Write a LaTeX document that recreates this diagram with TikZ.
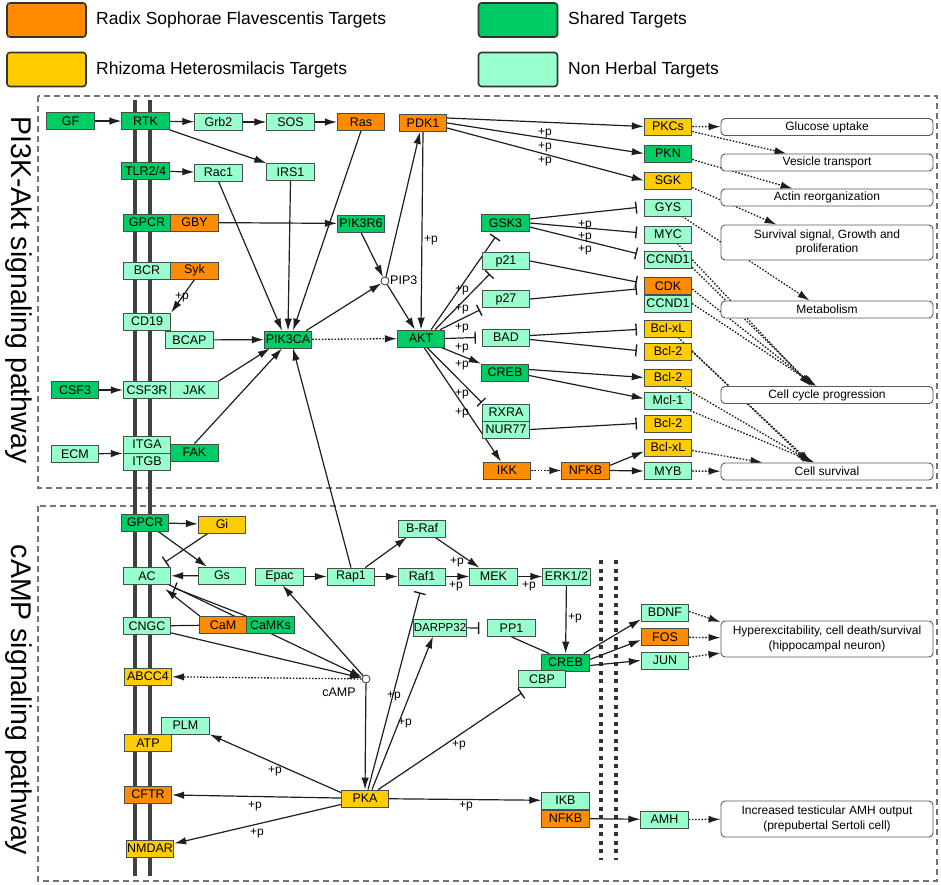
\documentclass[tikz,border=0pt]{standalone}
\usepackage{fontspec}
\setmainfont{Liberation Sans}
\usetikzlibrary{arrows.meta,calc}
\definecolor{rsfc}{RGB}{255,140,0}
\definecolor{rhc}{RGB}{255,204,0}
\definecolor{shc}{RGB}{0,204,102}
\definecolor{nhc}{RGB}{153,255,204}
\definecolor{boxline}{RGB}{70,80,75}
\definecolor{edge}{RGB}{30,30,30}
\pgfdeclarelayer{back}
\pgfsetlayers{back,main}

\begin{document}
\begin{tikzpicture}[x=1pt,y=-1pt,
  gene/.style={draw=boxline, line width=0.8pt, minimum width=47.5pt, minimum height=17pt, inner sep=0pt, font=\fontsize{12.5}{12.5}\selectfont},
  rsf/.style={gene, fill=rsfc},
  rh/.style={gene, fill=rhc},
  sh/.style={gene, fill=shc},
  nh/.style={gene, fill=nhc},
  outc/.style={draw=black!65, line width=0.9pt, rounded corners=4pt, fill=white, minimum width=212pt, minimum height=17pt, inner sep=1pt, align=center, font=\fontsize{12}{14.5}\selectfont},
  hub/.style={circle, draw=black!80, line width=0.8pt, fill=white, minimum size=8pt, inner sep=0pt},
  legbox/.style={draw=black!80, line width=1.6pt, rounded corners=3pt, minimum width=79pt, minimum height=34pt},
  legtxt/.style={anchor=west, inner sep=0pt, font=\fontsize{17.5}{18}\selectfont},
  plab/.style={inner sep=0pt, font=\fontsize{12}{12}\selectfont},
  small/.style={inner sep=0pt, font=\fontsize{12.5}{12.5}\selectfont},
  side/.style={rotate=-90, inner sep=0pt, font=\fontsize{28.5}{30}\selectfont},
  frame/.style={draw=black!55, line width=2pt, dash pattern=on 6pt off 4pt},
  memb/.style={draw=black!75, line width=4.5pt},
  wall/.style={draw=black!80, line width=4pt, dash pattern=on 4pt off 4.5pt},
  con/.style={draw=edge, line width=1.2pt},
  act/.style={con, -{Latex[length=12pt,width=7.5pt]}},
  inh/.style={con, -{Bar[width=12pt,line width=1.4pt]}},
  dotact/.style={draw=edge, line width=1.3pt, dash pattern=on 1.6pt off 1.6pt, -{Latex[length=12pt,width=7.5pt]}}]
\useasboundingbox (0,0) rectangle (941,884);

\node[legbox, fill=rsfc] (legRSF) at (46.5,20) {};
\node[legtxt] (legRSFt) at (96,20) {Radix Sophorae Flavescentis Targets};
\node[legbox, fill=rhc] (legRH) at (46.5,69.5) {};
\node[legtxt] (legRHt) at (96,69.5) {Rhizoma Heterosmilacis Targets};
\node[legbox, fill=shc] (legSH) at (518,20) {};
\node[legtxt] (legSHt) at (568,20) {Shared Targets};
\node[legbox, fill=nhc] (legNH) at (518,69.5) {};
\node[legtxt] (legNHt) at (568,69.5) {Non Herbal Targets};

\node[side] (sideA) at (19,290) {PI3K-Akt signaling pathway};
\node[side] (sideB) at (19,700) {cAMP signaling pathway};

\node[sh] (GF) at (70.5,121) {GF};
\node[sh] (RTK) at (145.5,121) {RTK};
\node[nh] (Grb2) at (218.5,122) {Grb2};
\node[nh] (SOS) at (290.5,122) {SOS};
\node[rsf] (Ras) at (361,122) {Ras};
\node[rsf] (PDK1) at (423,123) {PDK1};
\node[sh] (TLR) at (145.5,171) {TLR2/4};
\node[nh] (Rac1) at (218.5,172.5) {Rac1};
\node[nh] (IRS1) at (290.5,172) {IRS1};
\node[sh] (GPCRa) at (147,222.5) {GPCR};
\node[rsf] (GBY) at (194.5,222.5) {GBY};
\node[sh] (PIK3R6) at (361,223.5) {PIK3R6};
\node[nh] (BCR) at (147,270.5) {BCR};
\node[rsf] (Syk) at (194.5,270.5) {Syk};
\node[hub] (PIP3) at (385,281) {};
\node[small, anchor=west] (PIP3t) at (390,280) {PIP3};
\node[nh] (CD19) at (147,321.5) {CD19};
\node[nh] (BCAP) at (189.5,340) {BCAP};
\node[sh] (PIK3CA) at (288,339.5) {PIK3CA};
\node[sh] (AKT) at (421,338.5) {AKT};
\node[sh] (CSF3) at (75,390) {CSF3};
\node[nh] (CSF3R) at (147,390) {CSF3R};
\node[nh] (JAK) at (194.5,390) {JAK};
\node[nh] (ECM) at (75,454) {ECM};
\node[nh] (ITGA) at (147,444.5) {ITGA};
\node[nh] (ITGB) at (147,461.5) {ITGB};
\node[sh] (FAK) at (194.5,452.5) {FAK};
\node[sh] (GSK3) at (505.5,223) {GSK3};
\node[nh] (p21) at (506,261) {p21};
\node[nh] (p27) at (506,299) {p27};
\node[nh] (BAD) at (506,337.5) {BAD};
\node[sh] (CREBa) at (505,372.5) {CREB};
\node[nh] (RXRA) at (506,412.5) {RXRA};
\node[nh] (NUR77) at (506,429.5) {NUR77};
\node[rsf] (IKK) at (507,470.5) {IKK};
\node[rsf] (NFKBa) at (585.5,470.5) {NFKB};
\node[rh] (PKCs) at (668,126.5) {PKCs};
\node[sh] (PKN) at (668,153.5) {PKN};
\node[rh] (SGK) at (668,180.5) {SGK};
\node[nh] (GYS) at (668,207.5) {GYS};
\node[nh] (MYC) at (668,234.5) {MYC};
\node[nh] (CCNDa) at (668,259.5) {CCND1};
\node[rsf] (CDK) at (668,286) {CDK};
\node[nh] (CCNDb) at (668,303.5) {CCND1};
\node[rh] (BclxLa) at (668,328.5) {Bcl-xL};
\node[rh] (Bcl2a) at (668,351.5) {Bcl-2};
\node[rh] (Bcl2b) at (668,377.5) {Bcl-2};
\node[nh] (Mcl1) at (668,400.5) {Mcl-1};
\node[rh] (Bcl2c) at (668,423.5) {Bcl-2};
\node[rh] (BclxLb) at (668,447.5) {Bcl-xL};
\node[nh] (MYB) at (668,471) {MYB};
\node[outc] (glu) at (827,127) {Glucose uptake};
\node[outc] (ves) at (827,162.5) {Vesicle transport};
\node[outc] (actin) at (827,197.5) {Actin reorganization};
\node[outc, minimum height=35pt] (surv) at (827,242.5) {Survival signal, Growth and\\proliferation};
\node[outc] (meta) at (827,309.5) {Metabolism};
\node[outc] (ccp) at (827,395) {Cell cycle progression};
\node[outc] (csurv) at (827,471.5) {Cell survival};

\node[sh] (GPCRb) at (145,522.5) {GPCR};
\node[rh] (Gi) at (222,524.5) {Gi};
\node[nh] (AC) at (147,576) {AC};
\node[nh] (Gs) at (222,575.5) {Gs};
\node[nh] (Epac) at (279.5,576.5) {Epac};
\node[nh] (Rap1) at (351,576.5) {Rap1};
\node[nh] (BRaf) at (422,528.5) {B-Raf};
\node[nh] (Raf1) at (422,576.5) {Raf1};
\node[nh] (MEK) at (493.5,576.5) {MEK};
\node[nh] (ERK) at (566.5,576.5) {ERK1/2};
\node[nh] (CNGC) at (147,626) {CNGC};
\node[rsf] (CaM) at (223,625) {CaM};
\node[sh] (CaMKs) at (270.5,625) {CaMKs};
\node[nh, minimum width=50pt, font=\fontsize{11.5}{11.5}\selectfont] (DARPP32) at (440,627.5) {DARPP32};
\node[nh] (PP1) at (511.5,628) {PP1};
\node[sh] (CREBb) at (565.5,662.5) {CREB};
\node[nh] (CBP) at (542,679) {CBP};
\node[hub] (cAMP) at (366,679) {};
\node[small] (cAMPt) at (339,692) {cAMP};
\node[rh] (ABCC4) at (148,676.5) {ABCC4};
\node[nh] (BDNF) at (665,612.5) {BDNF};
\node[rsf] (FOS) at (665,637) {FOS};
\node[nh] (JUN) at (665,660.5) {JUN};
\node[outc, minimum height=36pt] (hyper) at (827,639) {Hyperexcitability, cell death/survival\\(hippocampal neuron)};
\node[nh] (PLM) at (185.5,725.5) {PLM};
\node[rh] (ATP) at (148,743) {ATP};
\node[rsf] (CFTR) at (148,794.5) {CFTR};
\node[rh] (NMDAR) at (150,848.5) {NMDAR};
\node[rh] (PKA) at (365,798.5) {PKA};
\node[nh] (IKB) at (565.5,800.5) {IKB};
\node[rsf] (NFKBb) at (565.5,818.5) {NFKB};
\node[nh] (AMH) at (664.5,819.5) {AMH};
\node[outc, minimum height=36pt] (amhout) at (827,819) {Increased testicular AMH output\\(prepubertal Sertoli cell)};

\node[plab] (lp1) at (182,297) {+p};
\node[plab] (lp2) at (545,133) {+p};
\node[plab] (lp3) at (545,147) {+p};
\node[plab] (lp4) at (545,161) {+p};
\node[plab] (lp5) at (431,240) {+p};
\node[plab] (lp6) at (585,225) {+p};
\node[plab] (lp7) at (585,237) {+p};
\node[plab] (lp8) at (585,250) {+p};
\node[plab] (lp9) at (462,290) {+p};
\node[plab] (lp10) at (462,309) {+p};
\node[plab] (lp11) at (462,328) {+p};
\node[plab] (lp12) at (462,348) {+p};
\node[plab] (lp13) at (462,365) {+p};
\node[plab] (lp14) at (462,394) {+p};
\node[plab] (lp15) at (462,413) {+p};
\node[plab] (lp16) at (457,562) {+p};
\node[plab] (lp17) at (456,586) {+p};
\node[plab] (lp18) at (529,586) {+p};
\node[plab] (lp19) at (575,618) {+p};
\node[plab] (lp20) at (275,771) {+p};
\node[plab] (lp21) at (255,806) {+p};
\node[plab] (lp22) at (257,833) {+p};
\node[plab] (lp23) at (466,806) {+p};
\node[plab] (lp24) at (405,723) {+p};
\node[plab] (lp25) at (459,745) {+p};
\node[plab] (lp26) at (394,696) {+p};

\begin{pgfonlayer}{back}
\draw[frame] (38,96) rectangle (937,488);
\draw[frame] (38,506) rectangle (937,881);
\draw[memb] (135,100) -- (135,876);
\draw[memb] (150,100) -- (150,876);
\draw[wall] (601,560) -- (601,860);
\draw[wall] (616,560) -- (616,860);

\draw[act] (GF) -- (RTK);
\draw[act] (RTK) -- (Grb2);
\draw[act] (Grb2) -- (SOS);
\draw[act] (SOS) -- (Ras);
\draw[act] (RTK.south east) -- (IRS1.north west);
\draw[act] (TLR) -- (Rac1);
\draw[act] (GBY) -- (PIK3R6);
\draw[act] (Syk.south) -- (CD19.north east);
\draw[act] (CSF3) -- (CSF3R);
\draw[act] (ECM) -- (ITGA.south west);
\draw[act] (Rac1.south) -- ($(PIK3CA.north)+(-6,0)$);
\draw[act] (IRS1.south) -- (PIK3CA.north);
\draw[act] (Ras.south) -- ($(PIK3CA.north)+(5,0)$);
\draw[act] (BCAP) -- (PIK3CA);
\draw[act] (JAK.north east) -- ($(PIK3CA.south west)+(6,0)$);
\draw[act] (FAK.north) -- ($(PIK3CA.south)+(-6,0)$);
\draw[act] (Rap1.north) -- ($(PIK3CA.south)+(5,0)$);
\draw[act] ($(PIK3CA.north east)+(-6,0)$) -- (PIP3);
\draw[act] (PIK3R6.south) -- (PIP3);
\draw[act] (PIP3) -- ($(PDK1.south)+(-3,0)$);
\draw[act] (PIP3) -- ($(AKT.north)+(-6,0)$);
\draw[act] (PDK1.south) -- (AKT.north);
\draw[act] ($(PDK1.east)+(0,-5)$) -- (PKCs.west);
\draw[act] (PDK1.east) -- (PKN.west);
\draw[act] ($(PDK1.east)+(0,5)$) -- (SGK.west);
\draw[dotact] (PIK3CA) -- (AKT);
\draw[inh] ($(AKT.north east)+(-14,0)$) -- ($(GSK3.south)+(-10,5)$);
\draw[inh] ($(AKT.north east)+(-10,0)$) -- ($(p21.south west)+(8,4)$);
\draw[inh] ($(AKT.north east)+(-5,0)$) -- ($(p27.south west)+(-2,2)$);
\draw[inh] (AKT.east) -- ($(BAD.west)+(-6,0)$);
\draw[act] ($(AKT.south east)+(-4,0)$) -- (CREBa.north west);
\draw[inh] ($(AKT.south)+(6,0)$) -- ($(RXRA.north west)+(0,-1)$);
\draw[act] ($(AKT.south)+(3,0)$) -- ($(IKK.north)+(-6,0)$);
\draw[inh] ($(GSK3.east)+(0,-4)$) -- ($(GYS.west)+(-7,0)$);
\draw[inh] (GSK3.east) -- ($(MYC.west)+(-7,-2)$);
\draw[inh] ($(GSK3.east)+(0,4)$) -- ($(CCNDa.west)+(-7,-6)$);
\draw[inh] (p21.east) -- ($(CDK.west)+(-7,-4)$);
\draw[inh] (p27.east) -- ($(CDK.west)+(-7,3)$);
\draw[inh] ($(BAD.east)+(0,-2)$) -- ($(BclxLa.west)+(-7,1)$);
\draw[inh] ($(BAD.east)+(0,2)$) -- ($(Bcl2a.west)+(-7,-1)$);
\draw[act] ($(CREBa.east)+(0,-3)$) -- (Bcl2b.west);
\draw[act] ($(CREBa.east)+(0,3)$) -- ($(Mcl1.west)+(0,-2)$);
\draw[inh] (NUR77.east) -- ($(Bcl2c.west)+(-7,0)$);
\draw[dotact] (IKK) -- (NFKBa);
\draw[act] ($(NFKBa.east)+(0,-5)$) -- ($(BclxLb.west)+(0,4)$);
\draw[act] (NFKBa.east) -- (MYB.west);

\draw[dotact] (PKCs) -- (glu);
\draw[dotact] ($(PKCs.east)+(0,5)$) -- ($(ves.north west)+(66,0)$);
\draw[dotact] ($(PKN.east)+(0,6)$) -- ($(actin.north west)+(72,0)$);
\draw[dotact] ($(SGK.east)+(0,7)$) -- ($(surv.north west)+(56,0)$);
\draw[dotact] ($(GYS.south east)+(-10,0)$) -- ($(meta.north west)+(89,0)$);
\draw[dotact] ($(MYC.south east)+(-15,0)$) -- ($(ccp.north west)+(90,0)$);
\draw[dotact] ($(CCNDa.south east)+(0,-1)$) -- ($(ccp.north west)+(92,0)$);
\draw[dotact] ($(CDK.east)+(0,3)$) -- ($(ccp.north west)+(94,0)$);
\draw[dotact] (CCNDb.east) -- ($(ccp.north west)+(96,0)$);
\draw[dotact] ($(BclxLa.south east)+(-14,0)$) -- ($(csurv.north west)+(88,0)$);
\draw[dotact] (Bcl2a.east) -- ($(csurv.north west)+(90,0)$);
\draw[dotact] ($(Bcl2b.south east)+(-10,0)$) -- ($(csurv.north west)+(92,0)$);
\draw[dotact] ($(Mcl1.south east)+(-5,0)$) -- ($(csurv.north west)+(94,0)$);
\draw[dotact] ($(BclxLb.east)+(0,3)$) -- ($(csurv.north west)+(42,0)$);
\draw[dotact] (MYB) -- (csurv);

\draw[act] (GPCRb) -- (Gi);
\draw[act] ($(GPCRb.south east)+(-11,0)$) -- ($(Gs.north west)+(9,0)$);
\draw[inh] ($(Gi.south west)+(10,0)$) -- ($(AC.north east)+(-6,-5)$);
\draw[act] (Gs) -- (AC);
\draw[act] ($(CaM.north west)+(1,0)$) -- ($(AC.south east)+(-6,4)$);
\draw[inh] (CaMKs.north west) -- ($(AC.south east)+(3,3)$);
\draw[act] ($(AC.south east)+(-2,0)$) -- (cAMP);
\draw[con] (CNGC) -- (CaM);
\draw[act] ($(CNGC.south east)+(0,-2)$) -- (cAMP);
\draw[act] (cAMP) -- ($(Epac.south)+(3,0)$);
\draw[dotact] (cAMP) -- (ABCC4);
\draw[act] (cAMP) -- (PKA.north);
\draw[act] (Epac) -- (Rap1);
\draw[act] ($(Rap1.north east)+(-10,0)$) -- ($(BRaf.south west)+(9,0)$);
\draw[act] (Rap1) -- (Raf1);
\draw[act] (Raf1) -- (MEK);
\draw[act] ($(BRaf.south east)+(-11,0)$) -- ($(MEK.north west)+(10,0)$);
\draw[act] (MEK) -- (ERK);
\draw[act] (ERK) -- (CREBb);
\draw[inh] ($(PKA.north)+(3,0)$) -- ($(Raf1.south)+(-2,7)$);
\draw[act] ($(PKA.north)+(7,0)$) -- ($(DARPP32.south)+(-7,0)$);
\draw[inh] (DARPP32) -- ($(PP1.west)+(-8,0)$);
\draw[con] (PP1.south) -- ($(CREBb.north west)+(8,0)$);
\draw[inh] ($(PKA.north east)+(-11,0)$) -- ($(CBP.south west)+(4,5)$);
\draw[act] ($(PKA.west)+(0,-6)$) -- (PLM.south east);
\draw[act] (PKA) -- (CFTR);
\draw[act] ($(PKA.west)+(0,6)$) -- ($(NMDAR.east)+(0,-5)$);
\draw[act] (PKA) -- (IKB);
\draw[act] (NFKBb) -- (AMH);
\draw[act] ($(CREBb.north east)+(-6,0)$) -- ($(BDNF.south west)+(0,-2)$);
\draw[act] ($(CREBb.east)+(0,-3)$) -- ($(FOS.west)+(0,3)$);
\draw[act] ($(CREBb.east)+(0,3)$) -- (JUN.west);
\draw[dotact] ($(BDNF.east)+(0,-1)$) -- ($(hyper.west)+(0,-17)$);
\draw[dotact] (FOS) -- (hyper);
\draw[dotact] (JUN) -- ($(hyper.west)+(0,14)$);
\draw[dotact] (AMH) -- (amhout);
\end{pgfonlayer}
\end{tikzpicture}
\end{document}
